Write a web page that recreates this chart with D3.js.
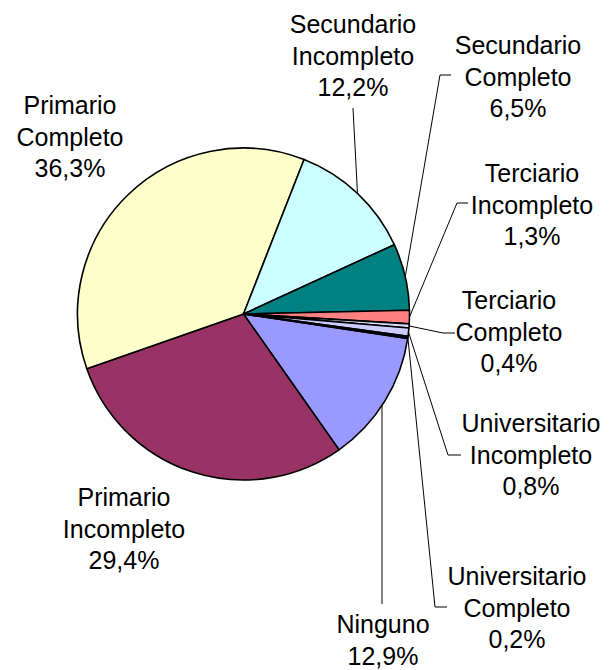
<!DOCTYPE html>
<html>
<head>
<meta charset="utf-8">
<script src="https://cdn.jsdelivr.net/npm/d3@7"></script>
<style>
  html, body { margin: 0; padding: 0; background: #fff; }
  svg { display: block; }
</style>
</head>
<body>
<svg id="chart" width="613" height="670"></svg>
<script>
// ---- data ----
const categories = ["Ninguno", "Primario Incompleto", "Primario Completo", "Secundario Incompleto",
  "Secundario Completo", "Terciario Incompleto", "Terciario Completo", "Universitario Incompleto",
  "Universitario Completo"];
const values = [12.9, 29.4, 36.3, 12.2, 6.5, 1.3, 0.4, 0.8, 0.2];
const valueLabels = ["12,9%", "29,4%", "36,3%", "12,2%", "6,5%", "1,3%", "0,4%", "0,8%", "0,2%"];
const labelLines = [["Ninguno"], ["Primario", "Incompleto"], ["Primario", "Completo"],
  ["Secundario", "Incompleto"], ["Secundario", "Completo"], ["Terciario", "Incompleto"],
  ["Terciario", "Completo"], ["Universitario", "Incompleto"], ["Universitario", "Completo"]];

// ---- styles / layout ----
const colors = ["#9999FF", "#993366", "#FFFFCC", "#CCFFFF", "#008080", "#FF8080", "#DDDDFF", "#CCCCFF", "#000080"];
const cx = 243.5, cy = 314, R = 166;
const fontSize = 25, lineH = 31.5;
// label block: center x, first baseline y
const labelPos = [[383, 633], [124, 506], [70, 114], [353, 33], [518, 54], [532, 182], [509, 309], [531, 432], [517, 585]];
// leader: elbow point and horizontal end (null = no leader)
const leaders = [
  {pts: [[382, 604]]},
  null, null,
  {pts: [[353, 108]]},
  {pts: [[440, 75], [451, 75]]},
  {pts: [[457, 203], [468, 203]]},
  {pts: [[443, 333], [455, 333]]},
  {pts: [[448, 455], [461, 455]]},
  {pts: [[435, 607], [447, 607]]}
];

const svg = d3.select("#chart");
const g = svg.append("g").attr("transform", `translate(${cx},${cy})`);

const startDeg = 98.44;
const pie = d3.pie().sort(null).value(d => d)
  .startAngle(startDeg * Math.PI / 180)
  .endAngle((startDeg + 360) * Math.PI / 180);
const arcs = pie(values);
const arc = d3.arc().innerRadius(0).outerRadius(R);

g.selectAll("path.slice").data(arcs).enter().append("path")
  .attr("class", "slice")
  .attr("d", arc)
  .attr("fill", (d, i) => colors[i])
  .attr("stroke", "#000")
  .attr("stroke-width", 1.6)
  .attr("stroke-linejoin", "round");

// leader lines
const edge = d => {
  const a = (d.startAngle + d.endAngle) / 2;
  return [cx + R * Math.sin(a), cy - R * Math.cos(a)];
};
arcs.forEach((d, i) => {
  const L = leaders[i];
  if (!L) return;
  let e = edge(d);
  if (i === 0) e = [L.pts[0][0], cy + Math.sqrt(R * R - (L.pts[0][0] - cx) ** 2)];
  const pts = [e].concat(L.pts);
  svg.append("path")
    .attr("d", d3.line()(pts))
    .attr("fill", "none")
    .attr("stroke", "#000")
    .attr("stroke-width", 1);
});

// labels
arcs.forEach((d, i) => {
  const [x, y] = labelPos[i];
  const lines = labelLines[i].concat([valueLabels[i]]);
  const t = svg.append("text")
    .attr("text-anchor", "middle")
    .attr("font-family", "'Liberation Sans', Arial, sans-serif")
    .attr("font-size", fontSize)
    .attr("fill", "#000");
  lines.forEach((s, k) => {
    t.append("tspan").attr("x", x).attr("y", y + k * lineH).text(s);
  });
});
</script>
</body>
</html>
